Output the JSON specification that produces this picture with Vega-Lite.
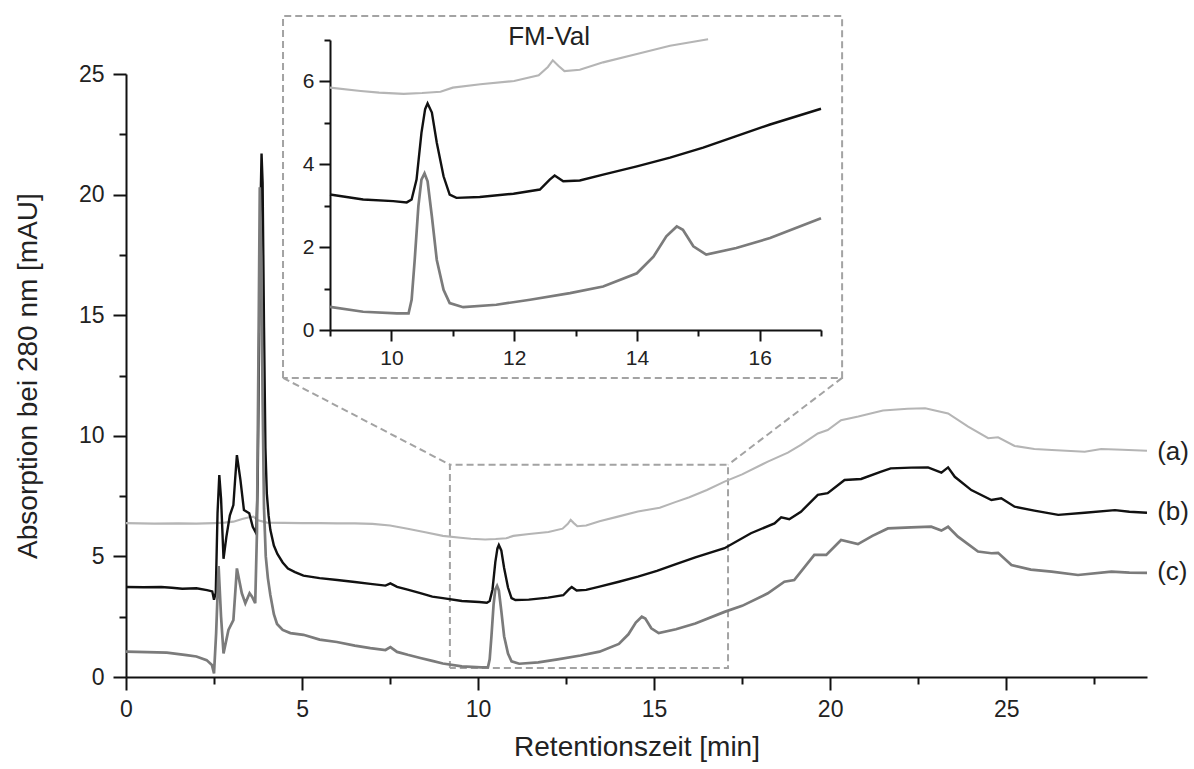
{
  "$schema": "https://vega.github.io/schema/vega-lite/v6.json",
  "width": 1021,
  "height": 603,
  "autosize": {"type": "none"},
  "padding": {"left": 126, "top": 74, "right": 47, "bottom": 92},
  "background": "white",
  "config": {
    "view": {"stroke": null},
    "font": "Liberation Sans",
    "axis": {
      "grid": false,
      "domainColor": "#111111",
      "domainWidth": 2,
      "tickColor": "#111111",
      "tickWidth": 2,
      "labelColor": "#222222",
      "labelFont": "Liberation Sans",
      "titleFont": "Liberation Sans",
      "titleColor": "#222222",
      "titleFontWeight": "normal",
      "labelOverlap": false,
      "labelFlush": false
    }
  },
  "datasets": {
    "traces": [
      {"s":"a","t":0,"v":6.38},{"s":"a","t":0.8,"v":6.36},{"s":"a","t":1.5,"v":6.37},{"s":"a","t":2.0,"v":6.36},{"s":"a","t":2.5,"v":6.38},{"s":"a","t":2.8,"v":6.4},{"s":"a","t":3.05,"v":6.44},{"s":"a","t":3.3,"v":6.55},{"s":"a","t":3.5,"v":6.62},{"s":"a","t":3.62,"v":6.65},{"s":"a","t":3.75,"v":6.5},{"s":"a","t":4.0,"v":6.4},{"s":"a","t":4.5,"v":6.39},{"s":"a","t":5.0,"v":6.38},{"s":"a","t":5.5,"v":6.38},{"s":"a","t":6.0,"v":6.37},{"s":"a","t":6.5,"v":6.37},{"s":"a","t":7.0,"v":6.35},{"s":"a","t":7.5,"v":6.28},{"s":"a","t":8.0,"v":6.15},{"s":"a","t":8.5,"v":6.0},{"s":"a","t":9.0,"v":5.85},{"s":"a","t":9.5,"v":5.77},{"s":"a","t":9.8,"v":5.73},{"s":"a","t":10.2,"v":5.7},{"s":"a","t":10.5,"v":5.72},{"s":"a","t":10.8,"v":5.75},{"s":"a","t":11.0,"v":5.85},{"s":"a","t":11.45,"v":5.93},{"s":"a","t":12.0,"v":6.01},{"s":"a","t":12.4,"v":6.15},{"s":"a","t":12.55,"v":6.35},{"s":"a","t":12.63,"v":6.51},{"s":"a","t":12.72,"v":6.38},{"s":"a","t":12.82,"v":6.25},{"s":"a","t":13.07,"v":6.28},{"s":"a","t":13.45,"v":6.46},{"s":"a","t":14.0,"v":6.66},{"s":"a","t":14.54,"v":6.86},{"s":"a","t":15.16,"v":7.02},{"s":"a","t":15.6,"v":7.25},{"s":"a","t":16.0,"v":7.45},{"s":"a","t":16.5,"v":7.75},{"s":"a","t":17.0,"v":8.1},{"s":"a","t":17.5,"v":8.4},{"s":"a","t":18.23,"v":8.93},{"s":"a","t":18.8,"v":9.3},{"s":"a","t":19.17,"v":9.62},{"s":"a","t":19.65,"v":10.1},{"s":"a","t":19.93,"v":10.24},{"s":"a","t":20.31,"v":10.65},{"s":"a","t":20.8,"v":10.8},{"s":"a","t":21.5,"v":11.05},{"s":"a","t":22.2,"v":11.12},{"s":"a","t":22.7,"v":11.14},{"s":"a","t":23.35,"v":10.93},{"s":"a","t":23.92,"v":10.38},{"s":"a","t":24.49,"v":9.9},{"s":"a","t":24.77,"v":9.94},{"s":"a","t":25.24,"v":9.58},{"s":"a","t":25.8,"v":9.45},{"s":"a","t":26.3,"v":9.41},{"s":"a","t":27.23,"v":9.34},{"s":"a","t":27.7,"v":9.45},{"s":"a","t":28.3,"v":9.42},{"s":"a","t":29.0,"v":9.38},
      {"s":"b","t":0,"v":3.73},{"s":"b","t":0.5,"v":3.72},{"s":"b","t":1.0,"v":3.73},{"s":"b","t":1.3,"v":3.7},{"s":"b","t":1.6,"v":3.66},{"s":"b","t":2.0,"v":3.68},{"s":"b","t":2.3,"v":3.6},{"s":"b","t":2.45,"v":3.55},{"s":"b","t":2.5,"v":3.2},{"s":"b","t":2.55,"v":3.5},{"s":"b","t":2.6,"v":6.8},{"s":"b","t":2.65,"v":8.37},{"s":"b","t":2.7,"v":7.4},{"s":"b","t":2.77,"v":4.9},{"s":"b","t":2.85,"v":5.8},{"s":"b","t":2.95,"v":6.7},{"s":"b","t":3.05,"v":7.13},{"s":"b","t":3.1,"v":8.2},{"s":"b","t":3.15,"v":9.2},{"s":"b","t":3.25,"v":8.17},{"s":"b","t":3.35,"v":6.92},{"s":"b","t":3.5,"v":6.79},{"s":"b","t":3.6,"v":6.23},{"s":"b","t":3.7,"v":5.95},{"s":"b","t":3.74,"v":8},{"s":"b","t":3.78,"v":14},{"s":"b","t":3.82,"v":19.5},{"s":"b","t":3.85,"v":21.7},{"s":"b","t":3.88,"v":20.5},{"s":"b","t":3.92,"v":14.5},{"s":"b","t":3.96,"v":9.5},{"s":"b","t":4.0,"v":7.6},{"s":"b","t":4.05,"v":6.7},{"s":"b","t":4.1,"v":6.1},{"s":"b","t":4.2,"v":5.45},{"s":"b","t":4.3,"v":5.1},{"s":"b","t":4.45,"v":4.75},{"s":"b","t":4.6,"v":4.5},{"s":"b","t":4.8,"v":4.35},{"s":"b","t":5.04,"v":4.2},{"s":"b","t":5.5,"v":4.1},{"s":"b","t":6.0,"v":4.02},{"s":"b","t":6.5,"v":3.94},{"s":"b","t":6.94,"v":3.86},{"s":"b","t":7.37,"v":3.79},{"s":"b","t":7.51,"v":3.88},{"s":"b","t":7.7,"v":3.74},{"s":"b","t":8.0,"v":3.62},{"s":"b","t":8.36,"v":3.48},{"s":"b","t":8.7,"v":3.33},{"s":"b","t":9.0,"v":3.27},{"s":"b","t":9.54,"v":3.15},{"s":"b","t":10.03,"v":3.11},{"s":"b","t":10.25,"v":3.08},{"s":"b","t":10.33,"v":3.15},{"s":"b","t":10.41,"v":3.63},{"s":"b","t":10.49,"v":4.76},{"s":"b","t":10.55,"v":5.33},{"s":"b","t":10.59,"v":5.47},{"s":"b","t":10.66,"v":5.25},{"s":"b","t":10.74,"v":4.52},{"s":"b","t":10.85,"v":3.71},{"s":"b","t":10.95,"v":3.27},{"s":"b","t":11.06,"v":3.19},{"s":"b","t":11.44,"v":3.21},{"s":"b","t":11.99,"v":3.29},{"s":"b","t":12.42,"v":3.39},{"s":"b","t":12.58,"v":3.63},{"s":"b","t":12.66,"v":3.73},{"s":"b","t":12.8,"v":3.59},{"s":"b","t":13.07,"v":3.61},{"s":"b","t":13.45,"v":3.75},{"s":"b","t":14.0,"v":3.95},{"s":"b","t":14.54,"v":4.16},{"s":"b","t":15.08,"v":4.4},{"s":"b","t":15.62,"v":4.68},{"s":"b","t":16.17,"v":4.96},{"s":"b","t":17.0,"v":5.34},{"s":"b","t":17.75,"v":5.96},{"s":"b","t":18.42,"v":6.37},{"s":"b","t":18.61,"v":6.62},{"s":"b","t":18.84,"v":6.54},{"s":"b","t":19.17,"v":6.85},{"s":"b","t":19.65,"v":7.55},{"s":"b","t":19.93,"v":7.62},{"s":"b","t":20.41,"v":8.17},{"s":"b","t":20.88,"v":8.21},{"s":"b","t":21.45,"v":8.51},{"s":"b","t":21.72,"v":8.65},{"s":"b","t":22.3,"v":8.68},{"s":"b","t":22.78,"v":8.69},{"s":"b","t":23.16,"v":8.47},{"s":"b","t":23.35,"v":8.69},{"s":"b","t":23.54,"v":8.3},{"s":"b","t":24.01,"v":7.75},{"s":"b","t":24.58,"v":7.34},{"s":"b","t":24.86,"v":7.41},{"s":"b","t":25.24,"v":7.06},{"s":"b","t":25.8,"v":6.9},{"s":"b","t":26.48,"v":6.72},{"s":"b","t":27.23,"v":6.81},{"s":"b","t":28.09,"v":6.92},{"s":"b","t":28.5,"v":6.85},{"s":"b","t":29.0,"v":6.81},
      {"s":"c","t":0,"v":1.05},{"s":"c","t":0.6,"v":1.03},{"s":"c","t":1.16,"v":1.01},{"s":"c","t":1.72,"v":0.91},{"s":"c","t":2.0,"v":0.85},{"s":"c","t":2.29,"v":0.7},{"s":"c","t":2.44,"v":0.5},{"s":"c","t":2.5,"v":0.15},{"s":"c","t":2.56,"v":1.81},{"s":"c","t":2.63,"v":4.6},{"s":"c","t":2.7,"v":2.5},{"s":"c","t":2.77,"v":0.98},{"s":"c","t":2.91,"v":1.95},{"s":"c","t":3.05,"v":2.36},{"s":"c","t":3.15,"v":4.5},{"s":"c","t":3.29,"v":3.47},{"s":"c","t":3.39,"v":3.06},{"s":"c","t":3.51,"v":3.47},{"s":"c","t":3.58,"v":3.33},{"s":"c","t":3.67,"v":3.06},{"s":"c","t":3.72,"v":6},{"s":"c","t":3.76,"v":13},{"s":"c","t":3.8,"v":20.3},{"s":"c","t":3.84,"v":17.5},{"s":"c","t":3.88,"v":11.5},{"s":"c","t":3.92,"v":7},{"s":"c","t":3.97,"v":5},{"s":"c","t":4.03,"v":4.1},{"s":"c","t":4.1,"v":3.4},{"s":"c","t":4.2,"v":2.6},{"s":"c","t":4.29,"v":2.2},{"s":"c","t":4.45,"v":1.95},{"s":"c","t":4.67,"v":1.82},{"s":"c","t":5.04,"v":1.75},{"s":"c","t":5.5,"v":1.55},{"s":"c","t":5.99,"v":1.45},{"s":"c","t":6.5,"v":1.3},{"s":"c","t":6.94,"v":1.2},{"s":"c","t":7.37,"v":1.12},{"s":"c","t":7.51,"v":1.24},{"s":"c","t":7.7,"v":1.04},{"s":"c","t":8.0,"v":0.92},{"s":"c","t":8.36,"v":0.79},{"s":"c","t":8.7,"v":0.67},{"s":"c","t":9.0,"v":0.56},{"s":"c","t":9.54,"v":0.44},{"s":"c","t":10.09,"v":0.4},{"s":"c","t":10.28,"v":0.4},{"s":"c","t":10.33,"v":0.73},{"s":"c","t":10.38,"v":1.69},{"s":"c","t":10.44,"v":2.99},{"s":"c","t":10.49,"v":3.63},{"s":"c","t":10.54,"v":3.78},{"s":"c","t":10.59,"v":3.59},{"s":"c","t":10.66,"v":2.74},{"s":"c","t":10.74,"v":1.69},{"s":"c","t":10.85,"v":0.97},{"s":"c","t":10.95,"v":0.65},{"s":"c","t":11.17,"v":0.55},{"s":"c","t":11.71,"v":0.61},{"s":"c","t":12.26,"v":0.73},{"s":"c","t":12.91,"v":0.89},{"s":"c","t":13.45,"v":1.05},{"s":"c","t":14.0,"v":1.37},{"s":"c","t":14.27,"v":1.77},{"s":"c","t":14.48,"v":2.26},{"s":"c","t":14.65,"v":2.5},{"s":"c","t":14.75,"v":2.42},{"s":"c","t":14.92,"v":2.02},{"s":"c","t":15.13,"v":1.82},{"s":"c","t":15.62,"v":1.98},{"s":"c","t":16.17,"v":2.22},{"s":"c","t":17.0,"v":2.7},{"s":"c","t":17.5,"v":2.95},{"s":"c","t":18.23,"v":3.47},{"s":"c","t":18.7,"v":3.95},{"s":"c","t":18.98,"v":4.02},{"s":"c","t":19.55,"v":5.06},{"s":"c","t":19.89,"v":5.06},{"s":"c","t":20.31,"v":5.68},{"s":"c","t":20.79,"v":5.51},{"s":"c","t":21.2,"v":5.85},{"s":"c","t":21.64,"v":6.16},{"s":"c","t":22.3,"v":6.2},{"s":"c","t":22.87,"v":6.23},{"s":"c","t":23.16,"v":6.07},{"s":"c","t":23.35,"v":6.23},{"s":"c","t":23.63,"v":5.82},{"s":"c","t":24.2,"v":5.2},{"s":"c","t":24.58,"v":5.13},{"s":"c","t":24.77,"v":5.15},{"s":"c","t":25.15,"v":4.64},{"s":"c","t":25.7,"v":4.45},{"s":"c","t":26.29,"v":4.37},{"s":"c","t":27.04,"v":4.23},{"s":"c","t":27.99,"v":4.37},{"s":"c","t":28.5,"v":4.33},{"s":"c","t":29.0,"v":4.32}
    ],
    "frame": [
      {"g":"box","o":0,"t":9.2,"v":0.37},{"g":"box","o":1,"t":9.2,"v":8.8},{"g":"box","o":2,"t":17.1,"v":8.8},{"g":"box","o":3,"t":17.1,"v":0.37},{"g":"box","o":4,"t":9.2,"v":0.37},
      {"g":"inset","o":0,"t":4.46,"v":12.4},{"g":"inset","o":1,"t":4.46,"v":27.4},{"g":"inset","o":2,"t":20.34,"v":27.4},{"g":"inset","o":3,"t":20.34,"v":12.4},{"g":"inset","o":4,"t":4.46,"v":12.4},
      {"g":"left","o":0,"t":4.46,"v":12.4},{"g":"left","o":1,"t":9.2,"v":8.8},
      {"g":"right","o":0,"t":20.34,"v":12.4},{"g":"right","o":1,"t":17.1,"v":8.8}
    ],
    "labels": [
      {"t":29.29,"v":9.33,"txt":"(a)"},{"t":29.29,"v":6.84,"txt":"(b)"},{"t":29.29,"v":4.35,"txt":"(c)"}
    ],
    "insetTitle": [
      {"t":12.57,"v":7.07,"txt":"FM-Val"}
    ]
  },
  "layer": [
    {
      "layer": [
        {
          "data": {"name": "frame"},
          "mark": {"type": "line", "color": "#a3a3a3", "strokeWidth": 2, "strokeDash": [7, 4]},
          "encoding": {
            "x": {"field": "t", "type": "quantitative", "scale": {"domain": [0, 29], "nice": false, "zero": false}, "axis": null},
            "y": {"field": "v", "type": "quantitative", "scale": {"domain": [0, 25], "nice": false, "zero": false}, "axis": null},
            "detail": {"field": "g"},
            "order": {"field": "o"}
          }
        },
        {
          "data": {"name": "frame"},
          "mark": {"type": "line", "opacity": 0},
          "encoding": {
            "x": {
              "field": "t", "type": "quantitative",
              "scale": {"domain": [0, 29], "nice": false, "zero": false},
              "axis": {"orient": "bottom", "title": null, "values": [2.5, 7.5, 12.5, 17.5, 22.5, 27.5], "labels": false, "domain": false, "tickSize": 7}
            },
            "y": {
              "field": "v", "type": "quantitative",
              "scale": {"domain": [0, 25], "nice": false, "zero": false},
              "axis": {"orient": "left", "title": null, "values": [2.5, 7.5, 12.5, 17.5, 22.5], "labels": false, "domain": false, "tickSize": 7}
            },
            "detail": {"field": "g"}
          }
        },
        {
          "data": {"name": "traces"},
          "mark": {"type": "line"},
          "encoding": {
            "x": {
              "field": "t", "type": "quantitative",
              "scale": {"domain": [0, 29], "nice": false, "zero": false},
              "axis": {
                "orient": "bottom",
                "title": "Retentionszeit [min]",
                "titleFontSize": 28,
                "titlePadding": 12,
                "values": [0, 5, 10, 15, 20, 25],
                "labelFontSize": 23,
                "labelPadding": 8,
                "tickSize": 13
              }
            },
            "y": {
              "field": "v", "type": "quantitative",
              "scale": {"domain": [0, 25], "nice": false, "zero": false},
              "axis": {
                "orient": "left",
                "title": "Absorption bei 280 nm [mAU]",
                "titleFontSize": 28,
                "titlePadding": 36,
                "values": [0, 5, 10, 15, 20, 25],
                "labelFontSize": 23,
                "labelPadding": 9,
                "tickSize": 13
              }
            },
            "color": {"field": "s", "type": "nominal", "scale": {"domain": ["a", "b", "c"], "range": ["#b5b5b5", "#111111", "#7b7b7b"]}, "legend": null},
            "strokeWidth": {"field": "s", "type": "nominal", "scale": {"domain": ["a", "b", "c"], "range": [2.1, 2.7, 2.1]}, "legend": null}
          }
        },
        {
          "data": {"name": "labels"},
          "mark": {"type": "text", "align": "left", "baseline": "middle", "fontSize": 26, "font": "Liberation Sans", "color": "#222222"},
          "encoding": {
            "x": {"field": "t", "type": "quantitative", "scale": {"domain": [0, 29], "nice": false, "zero": false}, "axis": null},
            "y": {"field": "v", "type": "quantitative", "scale": {"domain": [0, 25], "nice": false, "zero": false}, "axis": null},
            "text": {"field": "txt"}
          }
        }
      ],
      "resolve": {"axis": {"x": "independent", "y": "independent"}}
    },
    {
      "layer": [
        {
          "data": {"name": "frame"},
          "mark": {"type": "line", "opacity": 0},
          "encoding": {
            "x": {
              "field": "t", "type": "quantitative",
              "scale": {"domain": [9, 17], "range": [204, 695], "nice": false, "zero": false},
              "axis": {"orient": "bottom", "offset": -347, "title": null, "values": [9, 11, 13, 15, 17], "labels": false, "domain": false, "tickSize": 6}
            },
            "y": {
              "field": "v", "type": "quantitative",
              "scale": {"domain": [0, 7], "range": [256, -34], "nice": false, "zero": false},
              "axis": {"orient": "left", "offset": -204, "title": null, "values": [1, 3, 5, 7], "labels": false, "domain": false, "tickSize": 6}
            },
            "detail": {"field": "g"}
          }
        },
        {
          "data": {"name": "traces"},
          "transform": [{"filter": "datum.t >= 9 && datum.t <= 17 && datum.v <= 7.03"}],
          "mark": {"type": "line"},
          "encoding": {
            "x": {
              "field": "t", "type": "quantitative",
              "scale": {"domain": [9, 17], "range": [204, 695], "nice": false, "zero": false},
              "axis": {
                "orient": "bottom",
                "offset": -347,
                "title": null,
                "values": [10, 12, 14, 16],
                "labelFontSize": 21,
                "labelPadding": 6,
                "tickSize": 11
              }
            },
            "y": {
              "field": "v", "type": "quantitative",
              "scale": {"domain": [0, 7], "range": [256, -34], "nice": false, "zero": false},
              "axis": {
                "orient": "left",
                "offset": -204,
                "title": null,
                "values": [0, 2, 4, 6],
                "labelFontSize": 21,
                "labelPadding": 5,
                "tickSize": 11
              }
            },
            "color": {"field": "s", "type": "nominal", "scale": {"domain": ["a", "b", "c"], "range": ["#b5b5b5", "#111111", "#7b7b7b"]}, "legend": null},
            "strokeWidth": {"field": "s", "type": "nominal", "scale": {"domain": ["a", "b", "c"], "range": [2.1, 2.7, 2.1]}, "legend": null}
          }
        },
        {
          "data": {"name": "insetTitle"},
          "mark": {"type": "text", "align": "center", "baseline": "middle", "fontSize": 26, "font": "Liberation Sans", "color": "#222222"},
          "encoding": {
            "x": {"field": "t", "type": "quantitative", "scale": {"domain": [9, 17], "range": [204, 695], "nice": false, "zero": false}, "axis": null},
            "y": {"field": "v", "type": "quantitative", "scale": {"domain": [0, 7], "range": [256, -34], "nice": false, "zero": false}, "axis": null},
            "text": {"field": "txt"}
          }
        }
      ],
      "resolve": {"axis": {"x": "independent", "y": "independent"}}
    }
  ],
  "resolve": {"scale": {"x": "independent", "y": "independent"}}
}
